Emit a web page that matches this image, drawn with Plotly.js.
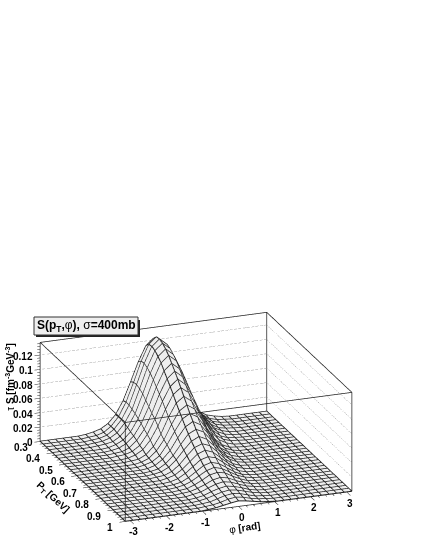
<!DOCTYPE html>
<html><head><meta charset="utf-8"><script src="https://cdn.plot.ly/plotly-3.0.1.min.js"></script>
<style>html,body{margin:0;padding:0;background:#fff}#p{width:425px;height:550px}</style></head><body><div id="p"></div>
<script>
const phi=[-3.14,-2.93,-2.72,-2.51,-2.30,-2.09,-1.88,-1.67,-1.46,-1.26,-1.05,-.84,-.63,-.42,-.21,0,.21,.42,.63,.84,1.05,1.26,1.46,1.67,1.88,2.09,2.30,2.51,2.72,2.93,3.14];
const pT=[.3,.325,.35,.375,.4,.425,.45,.475,.5,.525,.55,.575,.6,.625,.65,.675,.7,.725,.75,.775,.8,.825,.85,.875,.9,.925,.95,.975,1];
const S=[
[0,0,0,0,0,0,.001,.003,.006,.012,.023,.041,.066,.092,.113,.122,.113,.092,.066,.041,.023,.012,.006,.003,.001,0,0,0,0,0,0],
[0,0,0,0,0,0,.001,.002,.005,.012,.024,.043,.069,.097,.119,.128,.119,.097,.069,.043,.024,.012,.005,.002,.001,0,0,0,0,0,0],
[0,0,0,0,0,0,.001,.002,.005,.012,.024,.043,.070,.098,.120,.129,.120,.098,.070,.043,.024,.012,.005,.002,.001,0,0,0,0,0,0],
[0,0,0,0,0,0,.001,.002,.005,.011,.023,.041,.068,.096,.118,.127,.118,.096,.068,.041,.023,.011,.005,.002,.001,0,0,0,0,0,0],
[0,0,0,0,0,0,.001,.002,.004,.010,.021,.039,.065,.092,.114,.123,.114,.092,.065,.039,.021,.010,.004,.002,.001,0,0,0,0,0,0],
[0,0,0,0,0,0,0,.001,.004,.009,.019,.036,.060,.087,.109,.118,.109,.087,.060,.036,.019,.009,.004,.001,0,0,0,0,0,0,0],
[0,0,0,0,0,0,0,.001,.003,.008,.017,.033,.055,.081,.102,.111,.102,.081,.055,.033,.017,.008,.003,.001,0,0,0,0,0,0,0],
[0,0,0,0,0,0,0,.001,.002,.006,.015,.029,.050,.075,.095,.104,.095,.075,.050,.029,.015,.006,.002,.001,0,0,0,0,0,0,0],
[0,0,0,0,0,0,0,.001,.002,.005,.012,.026,.046,.069,.088,.097,.088,.069,.046,.026,.012,.005,.002,.001,0,0,0,0,0,0,0],
[0,0,0,0,0,0,0,0,.001,.004,.010,.022,.040,.062,.081,.089,.081,.062,.040,.022,.010,.004,.001,0,0,0,0,0,0,0,0],
[0,0,0,0,0,0,0,0,.001,.002,.007,.017,.033,.055,.073,.081,.073,.055,.033,.017,.007,.002,.001,0,0,0,0,0,0,0,0],
[0,0,0,0,0,0,0,0,0,.002,.006,.015,.029,.049,.066,.073,.066,.049,.029,.015,.006,.002,0,0,0,0,0,0,0,0,0],
[0,0,0,0,0,0,0,0,0,.002,.005,.012,.026,.043,.059,.065,.059,.043,.026,.012,.005,.002,0,0,0,0,0,0,0,0,0],
[0,0,0,0,0,0,0,0,0,.001,.004,.011,.022,.038,.052,.058,.052,.038,.022,.011,.004,.001,0,0,0,0,0,0,0,0,0],
[0,0,0,0,0,0,0,0,0,.001,.003,.009,.019,.033,.046,.051,.046,.033,.019,.009,.003,.001,0,0,0,0,0,0,0,0,0],
[0,0,0,0,0,0,0,0,0,.001,.003,.008,.017,.029,.040,.045,.040,.029,.017,.008,.003,.001,0,0,0,0,0,0,0,0,0],
[0,0,0,0,0,0,0,0,0,.001,.002,.006,.014,.025,.035,.039,.035,.025,.014,.006,.002,.001,0,0,0,0,0,0,0,0,0],
[0,0,0,0,0,0,0,0,0,0,.002,.005,.012,.021,.030,.034,.030,.021,.012,.005,.002,0,0,0,0,0,0,0,0,0,0],
[0,0,0,0,0,0,0,0,0,0,.001,.004,.010,.018,.026,.029,.026,.018,.010,.004,.001,0,0,0,0,0,0,0,0,0,0],
[0,0,0,0,0,0,0,0,0,0,.001,.003,.008,.015,.022,.025,.022,.015,.008,.003,.001,0,0,0,0,0,0,0,0,0,0],
[0,0,0,0,0,0,0,0,0,0,.001,.003,.007,.013,.019,.022,.019,.013,.007,.003,.001,0,0,0,0,0,0,0,0,0,0],
[0,0,0,0,0,0,0,0,0,0,.001,.002,.006,.011,.017,.019,.017,.011,.006,.002,.001,0,0,0,0,0,0,0,0,0,0],
[0,0,0,0,0,0,0,0,0,0,.001,.002,.005,.009,.014,.016,.014,.009,.005,.002,.001,0,0,0,0,0,0,0,0,0,0],
[0,0,0,0,0,0,0,0,0,0,0,.002,.004,.008,.012,.014,.012,.008,.004,.002,0,0,0,0,0,0,0,0,0,0,0],
[0,0,0,0,0,0,0,0,0,0,0,.001,.003,.007,.010,.012,.010,.007,.003,.001,0,0,0,0,0,0,0,0,0,0,0],
[0,0,0,0,0,0,0,0,0,0,0,.001,.003,.006,.009,.0105,.009,.006,.003,.001,0,0,0,0,0,0,0,0,0,0,0],
[0,0,0,0,0,0,0,0,0,0,0,.001,.002,.005,.008,.0095,.008,.005,.002,.001,0,0,0,0,0,0,0,0,0,0,0],
[0,0,0,0,0,0,0,0,0,0,0,.001,.002,.004,.007,.0085,.007,.004,.002,.001,0,0,0,0,0,0,0,0,0,0,0],
[0,0,0,0,0,0,0,0,0,0,0,.001,.002,.004,.006,.0075,.006,.004,.002,.001,0,0,0,0,0,0,0,0,0,0,0]
];
const phiTicks=[-3,-2,-1,0,1,2,3], ptTicks=[.3,.4,.5,.6,.7,.8,.9,1], zTicks=[0,.02,.04,.06,.08,.1,.12];
const phiMinor=[-2.8,-2.6,-2.4,-2.2,-1.8,-1.6,-1.4,-1.2,-.8,-.6,-.4,-.2,.2,.4,.6,.8,1.2,1.4,1.6,1.8,2.2,2.4,2.6,2.8];
const ptMinor=[.32,.34,.36,.38,.42,.44,.46,.48,.52,.54,.56,.58,.62,.64,.66,.68,.72,.74,.76,.78,.82,.84,.86,.88,.92,.94,.96,.98];
const zMinor=[.004,.008,.012,.016,.024,.028,.032,.036,.044,.048,.052,.056,.064,.068,.072,.076,.084,.088,.092,.096,.104,.108,.112,.116,.124,.128,.132,.136];
const xR=[-3.14,3.14], yR=[.3,1], zR=[0,.1375];
const xPad=.16, yPad=.03, fit=.88, lift=.0003;
const ink='#222';
const box=[[[xR[0],yR[0],zR[1]],[xR[1],yR[0],zR[1]],[xR[1],yR[1],zR[1]],[xR[0],yR[1],zR[1]],[xR[0],yR[0],zR[1]],[xR[0],yR[0],zR[0]],[xR[1],yR[0],zR[0]],[xR[1],yR[1],zR[0]],[xR[0],yR[1],zR[0]],[xR[0],yR[0],zR[0]]],
 [[xR[1],yR[0],zR[0]],[xR[1],yR[0],zR[1]]],[[xR[1],yR[1],zR[0]],[xR[1],yR[1],zR[1]]],[[xR[0],yR[1],zR[0]],[xR[0],yR[1],zR[1]]]];
const traces=[{type:'surface',x:phi,y:pT,z:S,showscale:false,hoverinfo:'skip',colorscale:[[0,'#eeeeee'],[1,'#eeeeee']],
 lighting:{ambient:1,diffuse:0,specular:0,fresnel:0,roughness:1},
 contours:{x:{show:false},y:{show:false},z:{show:false}}}];
const mx=[],my=[],mz=[];
pT.forEach((p,j)=>{phi.forEach((f,i)=>{mx.push(f);my.push(p);mz.push(S[j][i]+lift);});mx.push(null);my.push(null);mz.push(null);});
phi.forEach((f,i)=>{pT.forEach((p,j)=>{mx.push(f);my.push(p);mz.push(S[j][i]+lift);});mx.push(null);my.push(null);mz.push(null);});
traces.push({type:'scatter3d',mode:'lines',x:mx,y:my,z:mz,connectgaps:false,line:{color:'#222',width:2},hoverinfo:'skip',showlegend:false});
box.forEach(b=>traces.push({type:'scatter3d',mode:'lines',x:b.map(p=>p[0]),y:b.map(p=>p[1]),z:b.map(p=>p[2]),line:{color:ink,width:1.5},hoverinfo:'skip',showlegend:false}));
zTicks.slice(1).forEach(t=>{
 traces.push({type:'scatter3d',mode:'lines',x:[xR[0],xR[1]],y:[yR[0],yR[0]],z:[t,t],line:{color:'#444',width:1,dash:'dot'},hoverinfo:'skip',showlegend:false});
 traces.push({type:'scatter3d',mode:'lines',x:[xR[1],xR[1]],y:[yR[0],yR[1]],z:[t,t],line:{color:'#777',width:1,dash:'dot'},hoverinfo:'skip',showlegend:false});
});
function tickTrace(vals,len,kind){const X=[],Y=[],Z=[];vals.forEach(t=>{
  if(kind==='x'){X.push(t,t,null);Y.push(yR[1],yR[1]+len*yPad,null);Z.push(0,0,null);}
  if(kind==='y'){X.push(xR[0],xR[0]-len*xPad,null);Y.push(t,t,null);Z.push(0,0,null);}
  if(kind==='z'){X.push(xR[0],xR[0]-len*xPad,null);Y.push(yR[0],yR[0],null);Z.push(t,t,null);}});
  return {type:'scatter3d',mode:'lines',x:X,y:Y,z:Z,connectgaps:false,line:{color:ink,width:1},hoverinfo:'skip',showlegend:false};}
traces.push(tickTrace(phiTicks,1,'x'),tickTrace(phiMinor,.5,'x'),tickTrace(ptTicks,1,'y'),tickTrace(ptMinor,.5,'y'),tickTrace(zTicks,1,'z'),tickTrace(zMinor,.5,'z'));
const lab={family:'Liberation Sans',size:10,color:'#000',weight:700};
const tit={family:'Liberation Sans',size:10,color:'#000'};
const ann=[];
phiTicks.forEach(t=>ann.push({x:t,y:1,z:0,text:String(t),showarrow:false,font:lab,xanchor:'center',yanchor:'middle',xshift:3,yshift:-11}));
ptTicks.forEach(t=>ann.push({x:-3.14,y:t,z:0,text:String(t),showarrow:false,font:lab,xanchor:'right',yanchor:'middle',xshift:-10,yshift:-6}));
zTicks.forEach(t=>ann.push({x:-3.14,y:.3,z:t,text:String(t),showarrow:false,font:lab,xanchor:'right',yanchor:'middle',xshift:-5,yshift:-1.5}));
ann.push({x:-3.14,y:.6,z:0,text:'<b>P<sub>T</sub> [GeV]</b>',textangle:43,showarrow:false,font:tit,xanchor:'center',yanchor:'middle',xshift:-24,yshift:-21});
ann.push({x:0,y:1,z:0,text:'φ <b>[rad]</b>',textangle:-8,showarrow:false,font:tit,xanchor:'center',yanchor:'middle',xshift:6,yshift:-21});
ann.push({x:-3.14,y:.3,z:.09,text:'τ <b>S [fm<sup>-3</sup>GeV<sup>-3</sup>]</b>',textangle:-90,showarrow:false,font:tit,xanchor:'center',yanchor:'middle',xshift:-31,yshift:0});
const ax=r=>({range:r,title:{text:''},showbackground:false,showgrid:false,zeroline:false,showspikes:false,showline:false,showticklabels:false,ticks:''});
const layout={width:425,height:550,margin:{l:0,r:0,t:0,b:0},paper_bgcolor:'#fff',showlegend:false,
 scene:{domain:{x:[0,1],y:[0,1]},aspectmode:'manual',aspectratio:{x:fit*(1+2*xPad/6.28),y:fit*(1+2*yPad/.7),z:.385},
  camera:{projection:{type:'orthographic'},up:{x:0,y:0,z:1},center:{x:.12,y:.149,z:.483},eye:{x:-.56,y:-1.661,z:1.213}},
  xaxis:ax([xR[0]-xPad,xR[1]+xPad]),yaxis:ax([yR[1]+yPad,yR[0]-yPad]),zaxis:ax(zR),annotations:ann},
 shapes:[{type:'rect',xref:'paper',yref:'paper',x0:36/425,x1:140/425,y0:1-337/550,y1:1-320/550,fillcolor:'#222',line:{width:0},layer:'above'},
  {type:'rect',xref:'paper',yref:'paper',x0:34/425,x1:138/425,y0:1-335/550,y1:1-317/550,fillcolor:'#eeeeee',line:{color:'#333',width:1},layer:'above'}],
 annotations:[{xref:'paper',yref:'paper',x:86/425,y:1-326/550,xanchor:'center',yanchor:'middle',showarrow:false,text:'<b>S(p<sub>T</sub>,</b>φ<b>), </b>σ<b>=400mb</b>',font:{family:'Liberation Sans',size:12,color:'#000'}}]};
Plotly.newPlot('p',traces,layout,{displayModeBar:false});
</script></body></html>
